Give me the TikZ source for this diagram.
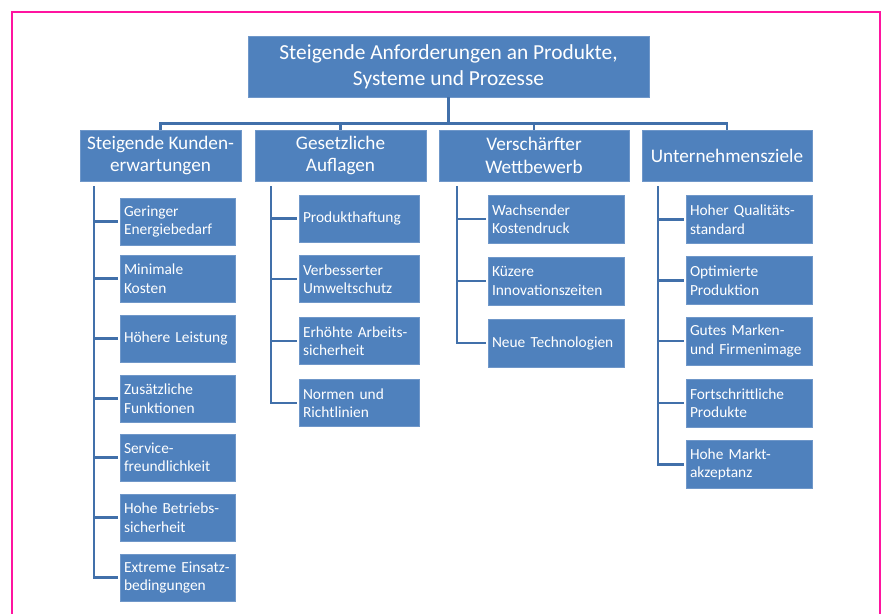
\documentclass[tikz,border=0pt]{standalone}
\usepackage{fontspec}
\setmainfont{Carlito}
\definecolor{boxblue}{HTML}{4F81BD}
\definecolor{boxedge}{HTML}{6F97C9}
\definecolor{linkblue}{HTML}{4170AA}
\definecolor{framepink}{RGB}{255,20,160}
\begin{document}
\begin{tikzpicture}[x=1pt,y=-1pt,
  box/.style={fill=boxblue,draw=boxedge,line width=0.8pt,text=white,inner sep=0pt,align=center},
  topbox/.style={box,font=\fontsize{21.4}{26}\selectfont},
  headbox/.style={box,font=\fontsize{19.2}{22.5}\selectfont},
  leafbox/.style={box,font=\fontsize{15.4}{18.5}\selectfont,align=left,inner xsep=4pt,minimum height=47pt},
  link/.style={draw=linkblue,line width=2.8pt},
  stub/.style={link,shorten >=2pt}]
\useasboundingbox (0,0) rectangle (883,613);
\draw[framepink,line width=1.2pt] (12,640) -- (12,12) -- (880,12) -- (880,640);

% top
\node[topbox,minimum width=401pt,minimum height=61pt] (top) at (448.5,66.5) {Steigende Anforderungen an Produkte,\\Systeme und Prozesse};

% level 2
\node[headbox,minimum width=161pt,minimum height=51pt] (ha) at (160.5,155.5) {Steigende Kunden-\\erwartungen};
\node[headbox,minimum width=171pt,minimum height=51pt] (hb) at (340.5,155.5) {Gesetzliche\\Auflagen};
\node[headbox,minimum width=190pt,minimum height=51pt] (hc) at (534,155.5) {Verschärfter\\Wettbewerb};
\node[headbox,minimum width=170pt,minimum height=51pt] (hd) at (727,155.5) {Unternehmensziele};

\coordinate (bar) at (448.5,123.5);
\draw[link] (top.south) -- (bar);
\draw[link] (ha.north) |- (bar) -| (hd.north);
\draw[link] (hb.north) -- (hb.north |- bar);
\draw[link] (hc.north) -- (hc.north |- bar);

% column 1
\begin{scope}[leafbox/.append style={text width=107pt}]
\node[leafbox] (a1) at (177.5,221.5) {\mbox{Geringer}\\\mbox{Energiebedarf}};
\node[leafbox] (a2) at (177.5,278.5) {\mbox{Minimale}\\\mbox{Kosten}};
\node[leafbox] (a3) at (177.5,338.5) {\mbox{Höhere Leistung}};
\node[leafbox] (a4) at (177.5,398.5) {\mbox{Zusätzliche}\\\mbox{Funktionen}};
\node[leafbox] (a5) at (177.5,457.5) {\mbox{Service-}\\\mbox{freundlichkeit}};
\node[leafbox] (a6) at (177.5,517.5) {\mbox{Hohe Betriebs-}\\\mbox{sicherheit}};
\node[leafbox] (a7) at (177.5,577.5) {\mbox{Extreme Einsatz-}\\\mbox{bedingungen}};
\end{scope}
\coordinate (ca) at (94,186);
\foreach \n in {a1,a2,a3,a4,a5,a6,a7} \draw[stub] (ca) |- (\n.west);

% column 2
\begin{scope}[leafbox/.append style={text width=112pt}]
\node[leafbox] (b1) at (359,218.5) {\mbox{Produkthaftung}};
\node[leafbox] (b2) at (359,279) {\mbox{Verbesserter}\\\mbox{Umweltschutz}};
\node[leafbox] (b3) at (359,341) {\mbox{Erhöhte Arbeits-}\\\mbox{sicherheit}};
\node[leafbox] (b4) at (359,403) {\mbox{Normen und}\\\mbox{Richtlinien}};
\end{scope}
\coordinate (cb) at (271,186);
\foreach \n in {b1,b2,b3,b4} \draw[stub] (cb) |- (\n.west);

% column 3
\begin{scope}[leafbox/.append style={text width=128pt,minimum height=48pt}]
\node[leafbox] (c1) at (556,219) {\mbox{Wachsender}\\\mbox{Kostendruck}};
\node[leafbox] (c2) at (556,281) {\mbox{Küzere}\\\mbox{Innovationszeiten}};
\node[leafbox] (c3) at (556,343) {\mbox{Neue Technologien}};
\end{scope}
\coordinate (cc) at (457,186);
\foreach \n in {c1,c2,c3} \draw[stub] (cc) |- (\n.west);

% column 4
\begin{scope}[leafbox/.append style={text width=118pt,minimum height=48pt}]
\node[leafbox] (d1) at (749,219.5) {\mbox{Hoher Qualitäts-}\\\mbox{standard}};
\node[leafbox] (d2) at (749,280.5) {\mbox{Optimierte}\\\mbox{Produktion}};
\node[leafbox] (d3) at (749,341) {\mbox{Gutes Marken-}\\\mbox{und Firmenimage}};
\node[leafbox] (d4) at (749,403) {\mbox{Fortschrittliche}\\\mbox{Produkte}};
\node[leafbox] (d5) at (749,464.5) {\mbox{Hohe Markt-}\\\mbox{akzeptanz}};
\end{scope}
\coordinate (cd) at (658,186);
\foreach \n in {d1,d2,d3,d4,d5} \draw[stub] (cd) |- (\n.west);
\end{tikzpicture}
\end{document}
